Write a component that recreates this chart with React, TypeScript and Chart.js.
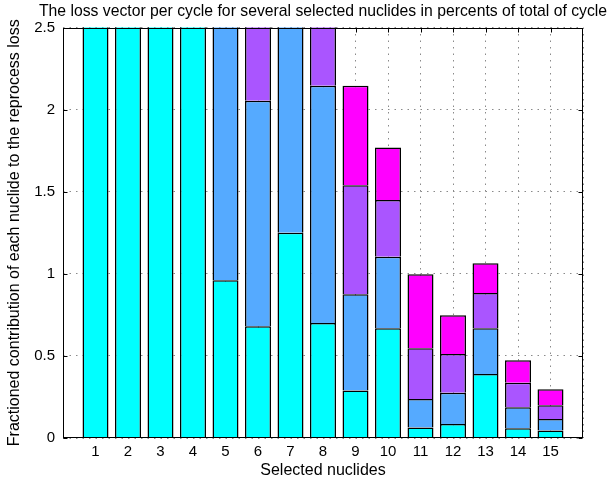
import React, { useEffect, useRef } from "react";
import { Chart, registerables } from "chart.js";

Chart.register(...registerables);

const chartTitle = "The loss vector per cycle for several selected nuclides in percents of total of cycle";
const xTitle = "Selected nuclides";
const yTitle = "Fractioned contribution of each nuclide to the reprocess loss";

const categories = ["1", "2", "3", "4", "5", "6", "7", "8", "9", "10", "11", "12", "13", "14", "15"];
const yTickValues = [0, 0.5, 1, 1.5, 2, 2.5];

// stacked segments (bars 1-8 run above the 2.5 limit; hidden parts estimated)
const cyanValues = [5.2, 4.4, 3.8, 3.1, 0.96, 0.68, 1.25, 0.7, 0.29, 0.668, 0.064, 0.086, 0.39, 0.06, 0.046];
const blueValues = [0.35, 0.3, 0.25, 0.2, 1.9, 1.374, 1.6, 1.445, 0.586, 0.436, 0.173, 0.189, 0.278, 0.128, 0.069];
const purpleValues = [0.3, 0.25, 0.2, 0.2, 0.6, 0.8, 0.5, 0.7, 0.664, 0.345, 0.31, 0.237, 0.215, 0.148, 0.085];
const magentaValues = [0.25, 0.2, 0.2, 0.15, 0.4, 0.5, 0.4, 0.45, 0.605, 0.32, 0.45, 0.236, 0.181, 0.138, 0.097];

const seriesColors = ["#00ffff", "#55aaff", "#aa55ff", "#ff00ff"];

const FONT = "'Liberation Sans', Arial, Helvetica, sans-serif";

export default function App() {
  const ref = useRef<HTMLCanvasElement | null>(null);

  useEffect(() => {
    if (!ref.current) return;
    const labels = ["", ...categories, ""];
    const pad = (arr: number[]) => [null, ...arr, null];
    const seriesList = [cyanValues, blueValues, purpleValues, magentaValues];

    const frame = {
      id: "frame",
      beforeDatasetsDraw(chart: any) {
        const { ctx, chartArea } = chart;
        const xs = chart.scales.x;
        const ys = chart.scales.y;
        const L = Math.round(chartArea.left) + 0.5;
        const R = Math.round(chartArea.right) - 0.5;
        const T = Math.round(chartArea.top) + 0.5;
        const B = Math.round(chartArea.bottom) - 0.5;
        ctx.save();
        ctx.strokeStyle = "#000";
        ctx.lineWidth = 1;
        ctx.beginPath();
        const tl = 4;
        for (let i = 1; i <= categories.length; i++) {
          const px = Math.round(xs.getPixelForValue(i)) + 0.5;
          ctx.moveTo(px, B);
          ctx.lineTo(px, B - tl);
          ctx.moveTo(px, T);
          ctx.lineTo(px, T + tl);
        }
        for (const v of yTickValues) {
          const py = Math.round(ys.getPixelForValue(v)) + 0.5;
          ctx.moveTo(L, py);
          ctx.lineTo(L + tl, py);
          ctx.moveTo(R, py);
          ctx.lineTo(R - tl, py);
        }
        ctx.stroke();
        ctx.restore();
      },
      afterDraw(chart: any) {
        const { ctx, chartArea } = chart;
        const L = Math.round(chartArea.left) + 0.5;
        const R = Math.round(chartArea.right) - 0.5;
        const T = Math.round(chartArea.top) + 0.5;
        const B = Math.round(chartArea.bottom) - 0.5;
        ctx.save();
        ctx.strokeStyle = "#000";
        ctx.lineWidth = 1;
        ctx.strokeRect(L, T, R - L, B - T);
        ctx.fillStyle = "#000";
        ctx.font = "15.75px " + FONT;
        ctx.textAlign = "center";
        ctx.textBaseline = "alphabetic";
        ctx.fillText(chartTitle, (chartArea.left + chartArea.right) / 2, 15.5);
        ctx.restore();
      },
    };

    const chart = new Chart(ref.current, {
      type: "bar",
      data: {
        labels,
        datasets: seriesList.map((vals, i) => ({
          label: "s" + (i + 1),
          data: pad(vals) as any,
          backgroundColor: seriesColors[i],
          borderColor: "#000",
          borderWidth: 1.5,
          barPercentage: 0.8,
          categoryPercentage: 1.0,
        })),
      },
      options: {
        animation: false,
        responsive: false,
        layout: { padding: { top: 27.5, right: 32, left: 0, bottom: 0 } },
        plugins: {
          legend: { display: false },
          tooltip: { enabled: false },
          title: { display: false },
        },
        scales: {
          x: {
            type: "category",
            stacked: true,
            offset: false,
            grid: { display: true, offset: false, drawTicks: false, color: "#8a8a8a", lineWidth: 1 },
            border: { display: false, dash: [1.5, 5] },
            ticks: { color: "#000", font: { size: 15, family: FONT }, padding: 5, autoSkip: false, maxRotation: 0 },
            title: { display: true, text: xTitle, color: "#000", font: { size: 16, family: FONT }, padding: { top: 0, bottom: 3.5 } },
            afterFit: (s: any) => {
              s.height = 46;
            },
          },
          y: {
            stacked: true,
            min: 0,
            max: 2.5,
            grid: { display: true, drawTicks: false, color: "#8a8a8a", lineWidth: 1 },
            border: { display: false, dash: [1.5, 5] },
            ticks: {
              color: "#000",
              font: { size: 15, family: FONT },
              padding: 8,
              callback: (v: any) => String(v),
            },
            afterBuildTicks: (s: any) => {
              s.ticks = yTickValues.map((v) => ({ value: v }));
            },
            title: { display: true, text: yTitle, color: "#000", font: { size: 16, family: FONT }, padding: { top: 5, bottom: 0 } },
            afterFit: (s: any) => {
              s.width = 63;
            },
          },
        },
      },
      plugins: [frame],
    });
    return () => chart.destroy();
  }, []);

  return (
    <div style={{ position: "absolute", left: 0, top: 0, width: 615, height: 484, background: "#fff" }}>
      <canvas ref={ref} width={615} height={484} style={{ display: "block" }} />
    </div>
  );
}
